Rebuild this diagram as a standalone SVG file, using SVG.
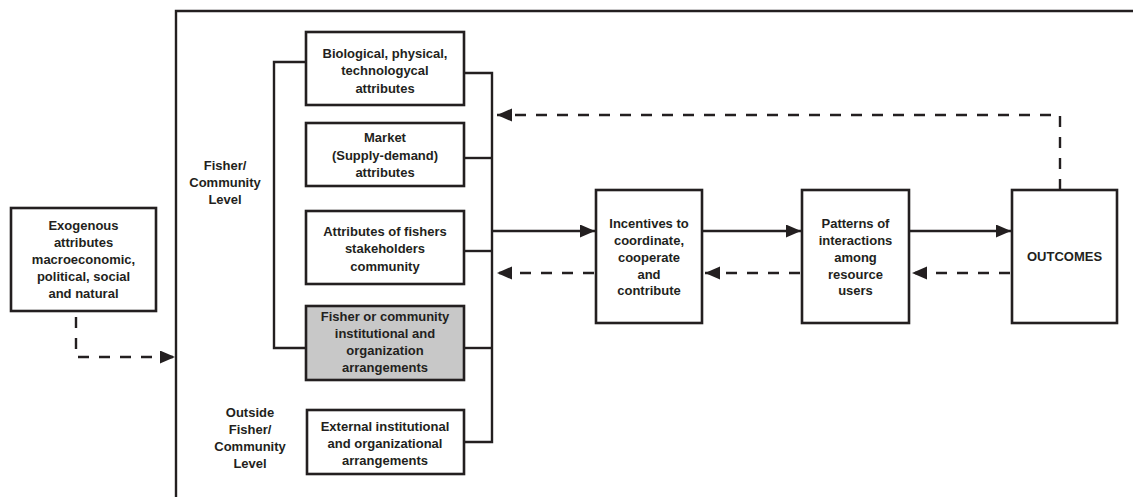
<svg xmlns="http://www.w3.org/2000/svg" width="1133" height="497" viewBox="0 0 1133 497">
<style>
.box{fill:#fff;stroke:#231f20;stroke-width:2.6}
.gray{fill:#c8c8c8}
.ln{fill:none;stroke:#231f20;stroke-width:2.4}
.dash{stroke-dasharray:11 10}
text{font-family:"Liberation Sans",Arial,sans-serif;font-weight:bold;font-size:13px;fill:#231f20;text-anchor:middle}
</style>
<defs>
<marker id="ah" markerUnits="userSpaceOnUse" markerWidth="16" markerHeight="14" refX="15" refY="6.5" orient="auto">
<path d="M0,0 L15,6.5 L0,13 Z" fill="#231f20"/>
</marker>
</defs>
<g id="frame">
<path class="ln" d="M176,497 V11 H1133"/>
</g>
<g id="connectors">
<path class="ln" d="M306,62 H274 V348 H306"/>
<path class="ln" d="M464,73 H492 V442 H464"/>
<path class="ln" d="M464,158 H492"/>
<path class="ln" d="M464,251 H492"/>
<path class="ln" d="M464,348 H492"/>
<path class="ln" d="M492,231 H595" marker-end="url(#ah)"/>
<path class="ln" d="M702,231 H801" marker-end="url(#ah)"/>
<path class="ln" d="M909,231 H1011" marker-end="url(#ah)"/>
<path class="ln dash" d="M594,273 H497" marker-end="url(#ah)"/>
<path class="ln dash" d="M800,273 H705" marker-end="url(#ah)"/>
<path class="ln dash" d="M1010,273 H912" marker-end="url(#ah)"/>
<path class="ln dash" d="M1060,190 V115 H497" marker-end="url(#ah)"/>
<path class="ln dash" d="M76,317 V357 H175" marker-end="url(#ah)"/>
</g>
<g id="exogenous">
<rect class="box" x="11" y="208" width="145" height="103"/>
<text x="83.5" y="229.5">Exogenous</text>
<text x="83.5" y="246.5">attributes</text>
<text x="83.5" y="263.5">macroeconomic,</text>
<text x="83.5" y="280.5">political, social</text>
<text x="83.5" y="297.5">and natural</text>
</g>
<g id="label-fisher-community">
<text x="225" y="169.5">Fisher/</text>
<text x="225" y="186.5">Community</text>
<text x="225" y="203.5">Level</text>
</g>
<g id="label-outside">
<text x="250" y="417">Outside</text>
<text x="250" y="434">Fisher/</text>
<text x="250" y="451">Community</text>
<text x="250" y="468">Level</text>
</g>
<g id="biological">
<rect class="box" x="306" y="32" width="158" height="73"/>
<text x="385" y="57.5">Biological, physical,</text>
<text x="385" y="75">technologycal</text>
<text x="385" y="92.5">attributes</text>
</g>
<g id="market">
<rect class="box" x="306" y="123" width="158" height="63"/>
<text x="385" y="141.5">Market</text>
<text x="385" y="159.5">(Supply-demand)</text>
<text x="385" y="176.5">attributes</text>
</g>
<g id="attributes-fishers">
<rect class="box" x="306" y="211" width="158" height="73"/>
<text x="385" y="235.5">Attributes of fishers</text>
<text x="385" y="253">stakeholders</text>
<text x="385" y="270.5">community</text>
</g>
<g id="fisher-institutional">
<rect class="box gray" x="306" y="306" width="158" height="74"/>
<text x="385" y="320.5">Fisher or community</text>
<text x="385" y="337.5">institutional and</text>
<text x="385" y="354.5">organization</text>
<text x="385" y="371.5">arrangements</text>
</g>
<g id="external">
<rect class="box" x="307" y="410" width="157" height="64"/>
<text x="385" y="430.5">External institutional</text>
<text x="385" y="447.5">and organizational</text>
<text x="385" y="464.5">arrangements</text>
</g>
<g id="incentives">
<rect class="box" x="596" y="190" width="106" height="133"/>
<text x="649" y="227.5">Incentives to</text>
<text x="649" y="244.5">coordinate,</text>
<text x="649" y="261.5">cooperate</text>
<text x="649" y="278.5">and</text>
<text x="649" y="294.5">contribute</text>
</g>
<g id="patterns">
<rect class="box" x="802" y="190" width="107" height="133"/>
<text x="855.5" y="227.5">Patterns of</text>
<text x="855.5" y="244.5">interactions</text>
<text x="855.5" y="261.5">among</text>
<text x="855.5" y="278.5">resource</text>
<text x="855.5" y="294.5">users</text>
</g>
<g id="outcomes">
<rect class="box" x="1012" y="190" width="105" height="133"/>
<text x="1064.5" y="260.5">OUTCOMES</text>
</g>
</svg>
